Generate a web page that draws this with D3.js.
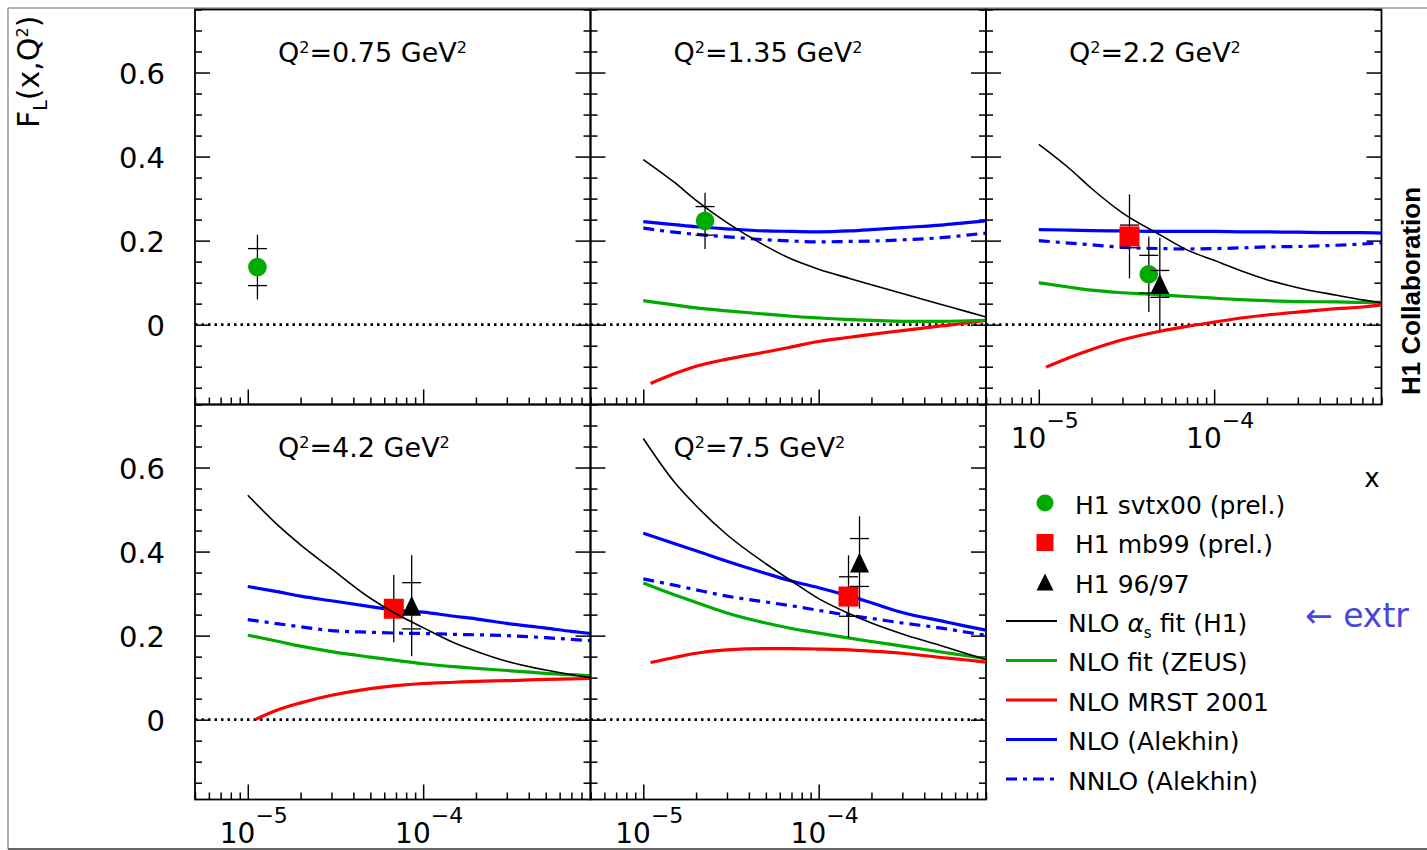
<!DOCTYPE html>
<html>
<head>
<meta charset="utf-8">
<title>F_L(x,Q2) H1</title>
<script src="https://cdn.jsdelivr.net/npm/d3@7/dist/d3.min.js"></script>
<style>
  body { margin:0; background:#fff; }
  svg { display:block; font-family:"DejaVu Sans", sans-serif; }
</style>
</head>
<body>
<svg id="chart"></svg>
<script>
// panel labels
var panelQ2 = ["0.75", "1.35", "2.2", "4.2", "7.5"];

// x grids for the model curves
var xGrid     = [1e-5, 1.5e-5, 2e-5, 3e-5, 5e-5, 7e-5, 1e-4, 1.5e-4, 2e-4, 3e-4, 5e-4, 7e-4, 9e-4];
var xGridMrst = [1.1e-5, 1.5e-5, 2e-5, 3e-5, 5e-5, 7e-5, 1e-4, 1.5e-4, 2e-4, 3e-4, 5e-4, 7e-4, 9e-4];

// model curves, one row per panel (null = no curve)
var fitH1 = [null,
  [0.393, 0.339, 0.296, 0.243, 0.187, 0.156, 0.132, 0.110, 0.095, 0.074, 0.048, 0.031, 0.018],
  [0.429, 0.371, 0.324, 0.266, 0.212, 0.178, 0.153, 0.125, 0.107, 0.088, 0.070, 0.059, 0.052],
  [0.534, 0.461, 0.416, 0.359, 0.289, 0.252, 0.219, 0.183, 0.163, 0.139, 0.118, 0.107, 0.100],
  [0.669, 0.566, 0.509, 0.440, 0.371, 0.330, 0.288, 0.252, 0.230, 0.204, 0.176, 0.157, 0.143]];
var fitZeus = [null,
  [0.057, 0.047, 0.040, 0.033, 0.025, 0.020, 0.016, 0.012, 0.010, 0.008, 0.008, 0.009, 0.010],
  [0.100, 0.089, 0.082, 0.076, 0.071, 0.067, 0.063, 0.059, 0.057, 0.055, 0.054, 0.053, 0.053],
  [0.201, 0.186, 0.175, 0.162, 0.149, 0.141, 0.133, 0.126, 0.122, 0.117, 0.110, 0.107, 0.104],
  [0.325, 0.297, 0.279, 0.254, 0.230, 0.217, 0.206, 0.194, 0.186, 0.175, 0.161, 0.152, 0.145]];
var mrst2001 = [null,
  [-0.140, -0.117, -0.099, -0.082, -0.065, -0.053, -0.040, -0.030, -0.023, -0.014, -0.003, 0.004, 0.010],
  [-0.101, -0.078, -0.059, -0.036, -0.015, -0.004, 0.006, 0.017, 0.023, 0.030, 0.038, 0.042, 0.047],
  [0.000, 0.024, 0.040, 0.058, 0.074, 0.081, 0.086, 0.089, 0.091, 0.093, 0.096, 0.097, 0.098],
  [0.136, 0.148, 0.158, 0.166, 0.169, 0.169, 0.168, 0.166, 0.163, 0.158, 0.148, 0.142, 0.137]];
var alekhinNlo = [null,
  [0.245, 0.238, 0.233, 0.228, 0.223, 0.222, 0.221, 0.223, 0.226, 0.231, 0.237, 0.243, 0.247],
  [0.226, 0.225, 0.224, 0.223, 0.222, 0.222, 0.222, 0.221, 0.221, 0.220, 0.219, 0.219, 0.218],
  [0.317, 0.304, 0.294, 0.283, 0.269, 0.260, 0.256, 0.246, 0.240, 0.229, 0.218, 0.210, 0.205],
  [0.444, 0.419, 0.402, 0.377, 0.348, 0.330, 0.314, 0.294, 0.278, 0.255, 0.235, 0.222, 0.213]];
var alekhinNnlo = [null,
  [0.230, 0.220, 0.215, 0.209, 0.202, 0.199, 0.197, 0.198, 0.199, 0.202, 0.207, 0.213, 0.218],
  [0.200, 0.194, 0.190, 0.184, 0.181, 0.180, 0.181, 0.183, 0.185, 0.186, 0.189, 0.192, 0.195],
  [0.238, 0.228, 0.221, 0.212, 0.208, 0.206, 0.205, 0.203, 0.202, 0.200, 0.195, 0.191, 0.188],
  [0.335, 0.320, 0.309, 0.294, 0.280, 0.271, 0.260, 0.248, 0.241, 0.230, 0.218, 0.208, 0.201]];

// measurements: [panel, x, FL, stat, total]
var svtx00 = [[0, 1.135e-5, 0.137, 0.044, 0.077],
              [1, 2.25e-5, 0.247, 0.034, 0.067],
              [2, 4.24e-5, 0.120, 0.045, 0.090]];
var mb99   = [[2, 3.29e-5, 0.210, 0.027, 0.100],
              [3, 6.8e-5, 0.264, 0.020, 0.080],
              [4, 1.48e-4, 0.293, 0.047, 0.098]];
var h19697 = [[2, 4.9e-5, 0.097, 0.032, 0.110],
              [3, 8.6e-5, 0.271, 0.055, 0.120],
              [4, 1.71e-4, 0.374, 0.057, 0.110]];

var yTickValues = [0, 0.2, 0.4, 0.6];
var yTickLabels = ["0", "0.2", "0.4", "0.6"];
var xTickValues = [1e-5, 1e-4];
var xTickExp = ["\u22125", "\u22124"];

var legendLabels = ["H1 svtx00 (prel.)", "H1 mb99 (prel.)", "H1 96/97"];

var width = 1427, height = 850;
var left0 = 195, top0 = 9.5, panelW = 395.5, panelH = 395;
var green = "#00aa00", red = "#ff0000", blue = "#0000ff";

var svg = d3.select("#chart").attr("width", width).attr("height", height);

var x = d3.scaleLog().domain([5e-6, 9e-4]).range([0, panelW]);
var y = d3.scaleLinear().domain([-0.19, 0.75]).range([panelH, 0]);

var line = d3.line()
  .x(function(d) { return x(d[0]); })
  .y(function(d) { return y(d[1]); })
  .curve(d3.curveMonotoneX);

function richText(g, parts, size) {
  var t = g.append("text").attr("font-size", size);
  var shift = 0;
  parts.forEach(function(p) {
    var s = t.append("tspan").text(p.t);
    var target = p.dy || 0;
    s.attr("dy", target - shift);
    shift = target;
    if (p.size) s.attr("font-size", p.size);
    if (p.it) s.attr("font-style", "italic");
  });
  return t;
}

function triPath(w, h) {
  return "M0," + (-h / 2) + "L" + (w / 2) + "," + (h / 2) + "L" + (-w / 2) + "," + (h / 2) + "Z";
}

// outer page frame
svg.append("line").attr("x1", 8).attr("y1", 8).attr("x2", width).attr("y2", 8).attr("stroke", "#999").attr("stroke-width", 1.5);
svg.append("line").attr("x1", 8).attr("y1", 8).attr("x2", 8).attr("y2", 849).attr("stroke", "#999").attr("stroke-width", 1.5);
svg.append("line").attr("x1", 8).attr("y1", 849).attr("x2", width).attr("y2", 849).attr("stroke", "#333").attr("stroke-width", 1.5);

var minorY = y.ticks(20).filter(function(v) { return Math.abs(v * 5 - Math.round(v * 5)) > 1e-6; });
var allX = x.ticks();
var majorX = allX.filter(function(v) { return Math.abs(Math.log10(v) - Math.round(Math.log10(v))) < 1e-6; });
var minorX = allX.filter(function(v) { return majorX.indexOf(v) < 0; });

panelQ2.forEach(function(q, i) {
  var col = i % 3, row = Math.floor(i / 3);
  var g = svg.append("g").attr("transform", "translate(" + (left0 + col * panelW) + "," + (top0 + row * panelH) + ")");

  function axis(a, tx, ty, vals, size) {
    var ax = g.append("g").attr("transform", "translate(" + tx + "," + ty + ")")
      .call(a.tickValues(vals).tickSize(size).tickFormat(""));
    ax.select(".domain").remove();
    ax.selectAll("line").attr("stroke", "#000").attr("stroke-width", 1.5);
  }
  axis(d3.axisRight(y), 0, 0, yTickValues, 15);
  axis(d3.axisRight(y), 0, 0, minorY, 7);
  axis(d3.axisLeft(y), panelW, 0, yTickValues, 15);
  axis(d3.axisLeft(y), panelW, 0, minorY, 7);
  axis(d3.axisTop(x), 0, panelH, majorX, 15);
  axis(d3.axisTop(x), 0, panelH, minorX, 7);

  g.append("rect").attr("width", panelW).attr("height", panelH)
    .attr("fill", "none").attr("stroke", "#000").attr("stroke-width", 1.8);

  // zero line
  g.append("line").attr("x1", 0).attr("x2", panelW).attr("y1", y(0)).attr("y2", y(0))
    .attr("stroke", "#000").attr("stroke-width", 2.6).attr("stroke-dasharray", "2.5,4");

  // y labels
  if (col === 0) {
    yTickValues.forEach(function(v, k) {
      g.append("text").attr("x", -30).attr("y", y(v) + 11).attr("text-anchor", "end")
        .attr("font-size", 29).text(yTickLabels[k]);
    });
  }
  // x labels
  if (i >= 2) {
    xTickValues.forEach(function(v, k) {
      richText(g, [{t: "10"}, {t: xTickExp[k], dy: -20, size: 22}], 28)
        .attr("x", x(v) + 6).attr("y", panelH + 43.5).attr("text-anchor", "middle");
    });
  }

  // title
  richText(g, [{t: "Q"}, {t: "2", dy: -9, size: 16}, {t: "=" + q + " GeV"}, {t: "2", dy: -9, size: 16}], 27)
    .attr("x", 83).attr("y", 52.5);

  // model curves
  if (fitZeus[i]) {
    g.append("path").attr("d", line(d3.zip(xGridMrst, mrst2001[i]))).attr("fill", "none").attr("stroke", red).attr("stroke-width", 3.2);
    g.append("path").attr("d", line(d3.zip(xGrid, fitZeus[i]))).attr("fill", "none").attr("stroke", green).attr("stroke-width", 3.2);
    g.append("path").attr("d", line(d3.zip(xGrid, alekhinNnlo[i]))).attr("fill", "none").attr("stroke", blue).attr("stroke-width", 3.2)
      .attr("stroke-dasharray", "11,6,4,6");
    g.append("path").attr("d", line(d3.zip(xGrid, alekhinNlo[i]))).attr("fill", "none").attr("stroke", blue).attr("stroke-width", 3.2);
  }

  // measurements
  function errBar(d) {
    var px = x(d[1]);
    g.append("line").attr("x1", px).attr("x2", px).attr("y1", y(d[2] - d[4])).attr("y2", y(d[2] + d[4]))
      .attr("stroke", "#000").attr("stroke-width", 1.3);
    [d[2] - d[3], d[2] + d[3]].forEach(function(v) {
      g.append("line").attr("x1", px - 9.5).attr("x2", px + 9.5).attr("y1", y(v)).attr("y2", y(v))
        .attr("stroke", "#000").attr("stroke-width", 1.3);
    });
  }
  svtx00.filter(function(d) { return d[0] === i; }).forEach(function(d) {
    errBar(d);
    g.append("circle").attr("cx", x(d[1])).attr("cy", y(d[2])).attr("r", 9.3).attr("fill", green);
  });
  mb99.filter(function(d) { return d[0] === i; }).forEach(function(d) {
    errBar(d);
    g.append("rect").attr("x", x(d[1]) - 10).attr("y", y(d[2]) - 10).attr("width", 20).attr("height", 20).attr("fill", red);
  });
  h19697.filter(function(d) { return d[0] === i; }).forEach(function(d) {
    errBar(d);
    g.append("path").attr("d", triPath(19, 20)).attr("transform", "translate(" + x(d[1]) + "," + y(d[2]) + ")").attr("fill", "#000");
  });

  if (fitH1[i]) {
    g.append("path").attr("d", line(d3.zip(xGrid, fitH1[i]))).attr("fill", "none").attr("stroke", "#000").attr("stroke-width", 1.6);
  }
});

// y axis title
richText(svg, [{t: "F"}, {t: "L", dy: 8, size: 19}, {t: "(x,Q"}, {t: "2", dy: -11, size: 16}, {t: ")"}], 30)
  .attr("transform", "translate(38.5,128) rotate(-90)");

// x axis title
svg.append("text").attr("x", 1372).attr("y", 487).attr("text-anchor", "middle").attr("font-size", 26).text("x");

// legend
var legX = 1006, legY = 503, legStep = 39.5;
var lg = svg.append("g");
lg.append("circle").attr("cx", 1045).attr("cy", legY).attr("r", 8.5).attr("fill", green);
lg.append("rect").attr("x", 1045 - 8.5).attr("y", legY + legStep - 8.5).attr("width", 17).attr("height", 17).attr("fill", red);
lg.append("path").attr("d", triPath(17, 17)).attr("transform", "translate(1045," + (legY + 2 * legStep) + ")").attr("fill", "#000");
legendLabels.forEach(function(s, k) {
  lg.append("text").attr("x", 1075).attr("y", legY + k * legStep + 10.5).attr("font-size", 25).text(s);
});
var lineItems = [
  {c: "#000", w: 2, dash: null, parts: [{t: "NLO "}, {t: "\u03b1", it: true}, {t: "s", dy: 6, size: 15}, {t: " fit (H1)"}]},
  {c: green, w: 3, dash: null, parts: [{t: "NLO fit (ZEUS)"}]},
  {c: red, w: 3, dash: null, parts: [{t: "NLO MRST 2001"}]},
  {c: blue, w: 3, dash: null, parts: [{t: "NLO (Alekhin)"}]},
  {c: blue, w: 3, dash: "11,6,4,6", parts: [{t: "NNLO (Alekhin)"}]}
];
lineItems.forEach(function(it, k) {
  var ly = legY + (k + 3) * legStep - 0.5;
  var l = lg.append("line").attr("x1", legX).attr("x2", legX + 51).attr("y1", ly).attr("y2", ly)
    .attr("stroke", it.c).attr("stroke-width", it.w);
  if (it.dash) l.attr("stroke-dasharray", it.dash);
  richText(lg, it.parts, 25).attr("x", 1068).attr("y", ly + 10.5);
});

// annotations
svg.append("text").attr("x", 1305).attr("y", 627).attr("font-size", 33).attr("fill", "#4646d8").text("\u2190 extr");
svg.append("text").attr("transform", "translate(1420,291) rotate(-90)").attr("text-anchor", "middle")
  .attr("font-family", "'Liberation Sans', Arial, sans-serif").attr("font-weight", "bold").attr("font-size", 26)
  .text("H1 Collaboration");
</script>
</body>
</html>
